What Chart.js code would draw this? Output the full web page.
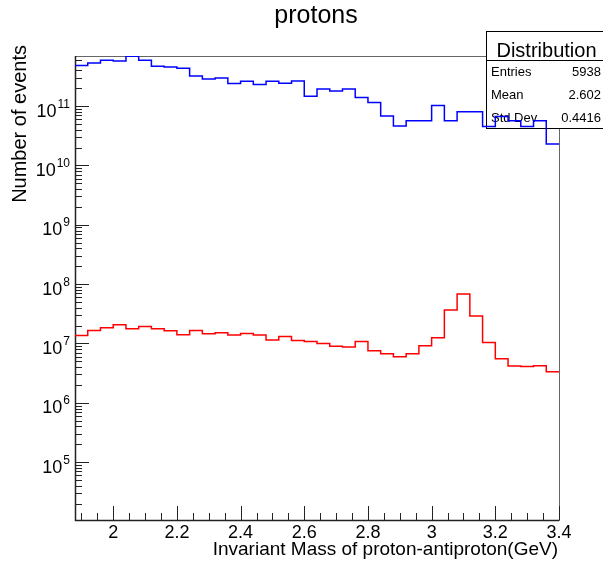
<!DOCTYPE html>
<html>
<head>
<meta charset="utf-8">
<script src="https://cdn.jsdelivr.net/npm/chart.js@4.4.0/dist/chart.umd.min.js"></script>
<style>
  html, body { margin: 0; padding: 0; background: #fff; }
</style>
</head>
<body>
<canvas id="histo" width="603" height="564"></canvas>
<script>
// histogram binning (GeV)
const X_MIN = 1.88;
const X_MAX = 3.40;
const BIN_WIDTH = 0.04;
const Y_MIN = 1.06e4;
const Y_MAX = 6.98e11;

// blue histogram, events per bin (38 bins)
const blueCounts = [
  4.81e11, 5.32e11, 5.90e11, 5.75e11, 6.90e11, 5.90e11, 4.68e11, 4.55e11, 4.33e11, 3.21e11,
  2.86e11, 2.97e11, 2.39e11, 2.61e11, 2.30e11, 2.61e11, 2.42e11, 2.64e11, 1.47e11, 1.94e11,
  1.79e11, 1.94e11, 1.39e11, 1.15e11, 6.78e10, 4.60e10, 5.67e10, 5.67e10, 1.02e11, 5.67e10,
  8.04e10, 8.04e10, 4.54e10, 6.70e10, 5.67e10, 4.54e10, 5.67e10, 2.29e10
];

// red histogram, events per bin (38 bins)
const redCounts = [
  1.36e7, 1.66e7, 1.84e7, 2.07e7, 1.77e7, 1.94e7, 1.77e7, 1.64e7, 1.40e7, 1.66e7,
  1.46e7, 1.52e7, 1.39e7, 1.47e7, 1.39e7, 1.14e7, 1.31e7, 1.12e7, 1.08e7, 1.00e7,
  8.97e6, 8.70e6, 1.08e7, 7.53e6, 6.70e6, 5.97e6, 6.70e6, 9.14e6, 1.25e7, 3.66e7,
  6.82e7, 2.90e7, 1.04e7, 5.52e6, 4.16e6, 4.09e6, 4.20e6, 3.33e6
];

const xTicks = [2.0, 2.2, 2.4, 2.6, 2.8, 3.0, 3.2, 3.4];
const xTickLabels = ['2', '2.2', '2.4', '2.6', '2.8', '3', '3.2', '3.4'];
const yDecades = [5, 6, 7, 8, 9, 10, 11];

const statsLabels = ['Entries', 'Mean', 'Std Dev'];
const statsValues = ['5938', '2.602', '0.4416'];

const FONT = '"Liberation Sans", Arial, sans-serif';

// bin low edges + closing point at X_MAX, drawn as steps
function toSteps(counts) {
  const pts = counts.map((c, i) => ({ x: +(X_MIN + i * BIN_WIDTH).toFixed(2), y: c }));
  pts.push({ x: X_MAX, y: counts[counts.length - 1] });
  return pts;
}

// ROOT-like frame, ticks, labels and stats box
const rootFrame = {
  id: 'rootFrame',
  beforeDatasetsDraw(chart) {
    const { ctx, chartArea: a, scales: { x, y } } = chart;
    ctx.save();

    // title
    ctx.fillStyle = '#000';
    ctx.font = '25px ' + FONT;
    ctx.textAlign = 'center';
    ctx.textBaseline = 'alphabetic';
    ctx.fillText('protons', 316, 23);

    // x axis title
    ctx.font = '19px ' + FONT;
    ctx.textAlign = 'right';
    ctx.fillText('Invariant Mass of proton-antiproton(GeV)', a.right - 1, 555);

    // y axis title
    ctx.save();
    ctx.translate(26, a.top - 11);
    ctx.rotate(-Math.PI / 2);
    ctx.font = '20px ' + FONT;
    ctx.textAlign = 'right';
    ctx.fillText('Number of events', 0, 0);
    ctx.restore();

    // frame
    ctx.strokeStyle = '#666';
    ctx.lineWidth = 1;
    ctx.strokeRect(Math.round(a.left) + 0.5, Math.round(a.top) + 0.5,
      Math.round(a.right - a.left), Math.round(a.bottom - a.top));
    ctx.strokeStyle = '#222';
    ctx.lineWidth = 1.5;
    ctx.beginPath();
    ctx.moveTo(a.left + 0.5, a.top);
    ctx.lineTo(a.left + 0.5, a.bottom + 0.5);
    ctx.lineTo(a.right, a.bottom + 0.5);
    ctx.stroke();

    // x ticks (inward)
    ctx.lineWidth = 1;
    ctx.strokeStyle = '#222';
    ctx.beginPath();
    for (let k = Math.ceil(X_MIN / 0.05 - 1e-6); k <= Math.floor(X_MAX / 0.05 + 1e-6); k++) {
      const px = Math.round(x.getPixelForValue(k * 0.05)) + 0.5;
      const len = (k % 4 === 0) ? 14 : 7;
      ctx.moveTo(px, a.bottom);
      ctx.lineTo(px, a.bottom - len);
    }
    ctx.stroke();

    // x tick labels
    ctx.font = '18px ' + FONT;
    ctx.textAlign = 'center';
    xTicks.forEach((v, i) => {
      ctx.fillText(xTickLabels[i], x.getPixelForValue(v), 538);
    });

    // y ticks (inward), decades long, 2..9 short
    ctx.beginPath();
    for (let d = 4; d <= 11; d++) {
      for (let m = 1; m <= 9; m++) {
        const v = m * Math.pow(10, d);
        if (v < Y_MIN || v > Y_MAX) continue;
        const py = Math.round(y.getPixelForValue(v)) + 0.5;
        const len = (m === 1) ? 14 : 7;
        ctx.moveTo(a.left, py);
        ctx.lineTo(a.left + len, py);
      }
    }
    ctx.stroke();

    // y tick labels 10^n
    yDecades.forEach(d => {
      const py = y.getPixelForValue(Math.pow(10, d));
      ctx.textAlign = 'right';
      ctx.font = '12px ' + FONT;
      const exp = String(d);
      ctx.fillText(exp, 70, py + 1.5);
      const ew = ctx.measureText(exp).width;
      ctx.font = '18px ' + FONT;
      ctx.fillText('10', 70 - ew - 1, py + 10.5);
    });

    // stats box (the histograms are drawn on top of it)
    const bx = 486.5, by = 31.5, bh = 97;
    ctx.fillStyle = '#fff';
    ctx.fillRect(bx, by, 130, bh);
    ctx.strokeStyle = '#000';
    ctx.lineWidth = 1;
    ctx.strokeRect(bx, by, 130, bh);
    ctx.beginPath();
    ctx.moveTo(bx, 60.5);
    ctx.lineTo(603, 60.5);
    ctx.stroke();
    ctx.fillStyle = '#000';
    ctx.font = '20px ' + FONT;
    ctx.textAlign = 'center';
    ctx.fillText('Distribution', 546.5, 57);
    ctx.font = '13px ' + FONT;
    statsLabels.forEach((lab, i) => {
      const base = 75.5 + i * 23.3;
      ctx.textAlign = 'left';
      ctx.fillText(lab, 491, base);
      ctx.textAlign = 'right';
      ctx.fillText(statsValues[i], 601, base);
    });

    ctx.restore();
  }
};

new Chart(document.getElementById('histo').getContext('2d'), {
  type: 'line',
  data: {
    datasets: [{
      label: 'blue',
      data: toSteps(blueCounts),
      borderColor: '#0000ff',
      borderWidth: 1.5,
      stepped: true,
      pointRadius: 0,
      fill: false
    }, {
      label: 'red',
      data: toSteps(redCounts),
      borderColor: '#ff0000',
      borderWidth: 1.5,
      stepped: true,
      pointRadius: 0,
      fill: false
    }]
  },
  options: {
    responsive: false,
    animation: false,
    devicePixelRatio: 1,
    layout: { padding: { left: 75, right: 44, top: 56, bottom: 44 } },
    plugins: {
      legend: { display: false },
      tooltip: { enabled: false }
    },
    scales: {
      x: { type: 'linear', min: X_MIN, max: X_MAX, display: false },
      y: { type: 'logarithmic', min: Y_MIN, max: Y_MAX, display: false }
    }
  },
  plugins: [rootFrame]
});
</script>
</body>
</html>
